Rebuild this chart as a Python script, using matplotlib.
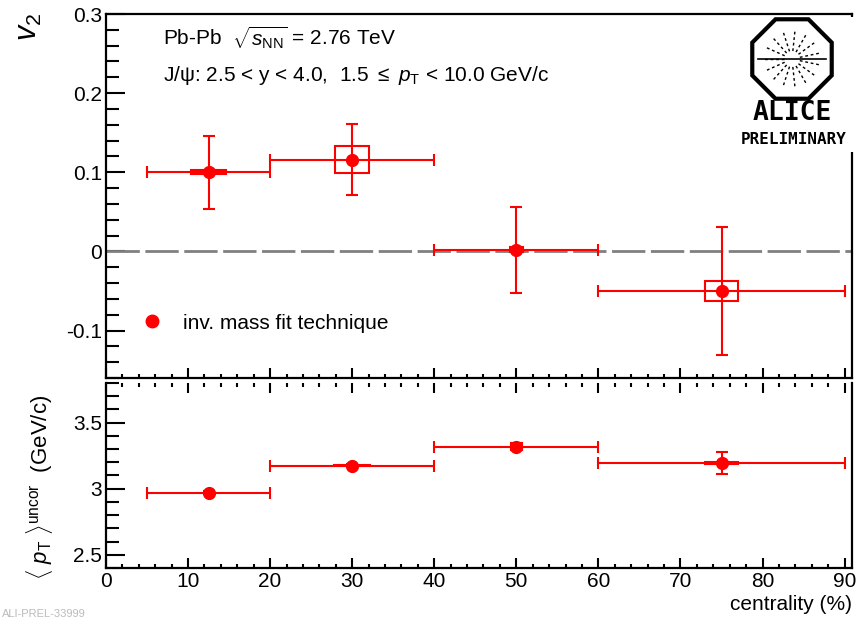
import numpy as np
import matplotlib
matplotlib.use("Agg")
import matplotlib.pyplot as plt
from matplotlib.patches import Rectangle, RegularPolygon
from matplotlib.lines import Line2D
from matplotlib.ticker import MultipleLocator, FuncFormatter

plt.rcParams["font.family"] = ["Liberation Sans", "DejaVu Sans"]
plt.rcParams["mathtext.fontset"] = "custom"
plt.rcParams["mathtext.rm"] = "Liberation Sans"
plt.rcParams["mathtext.it"] = "Liberation Sans:italic"
plt.rcParams["axes.unicode_minus"] = False

# centrality bins
cent = np.array([12.5, 30.0, 50.0, 75.0])
bin_lo = np.array([5.0, 20.0, 40.0, 60.0])
bin_hi = np.array([20.0, 40.0, 60.0, 90.0])

# v2 with stat errors and systematic boxes
v2 = np.array([0.100, 0.116, 0.002, -0.050])
v2_stat = np.array([0.046, 0.045, 0.054, 0.081])
v2_sys = np.array([0.0025, 0.017, 0.003, 0.013])
v2_sys_w = np.array([2.1, 2.1, 0.8, 2.0])

# <pT> uncorrected
pt = np.array([2.97, 3.175, 3.318, 3.195])
pt_stat = np.array([0.010, 0.012, 0.026, 0.083])
pt_sys = np.array([0.004, 0.006, 0.026, 0.008])
pt_sys_w = np.array([0.4, 2.2, 0.7, 2.0])

RED = "#ff0000"
FS = 15

fig = plt.figure(figsize=(8.58, 6.2), dpi=100)
ax1 = fig.add_axes([0.1235, 0.3903, 0.8695, 0.5871])
ax2 = fig.add_axes([0.1235, 0.0839, 0.8695, 0.2984])


def draw(ax, y, stat, sys, sys_w):
    xerr = [cent - bin_lo, bin_hi - cent]
    ax.errorbar(cent, y, xerr=xerr, yerr=stat, fmt="o", color=RED, ms=8.5,
                elinewidth=1.5, capsize=4, capthick=1.5, zorder=4)
    for xc, yc, dy, dx in zip(cent, y, sys, sys_w):
        ax.add_patch(Rectangle((xc - dx, yc - dy), 2 * dx, 2 * dy, fill=False,
                               ec=RED, lw=1.5, zorder=5))


draw(ax1, v2, v2_stat, v2_sys, v2_sys_w)
draw(ax2, pt, pt_stat, pt_sys, pt_sys_w)

ax1.axhline(0, color="#808080", lw=2, ls=(0, (12, 2)), zorder=2)

for ax in (ax1, ax2):
    ax.set_xlim(0, 90.9)
    ax.xaxis.set_major_locator(MultipleLocator(10))
    ax.xaxis.set_minor_locator(MultipleLocator(2))
    for s in ax.spines.values():
        s.set_linewidth(1.6)
    ax.tick_params(which="both", direction="in", width=1.5, labelsize=FS,
                   right=False, pad=3)
    ax.tick_params(axis="x", which="major", length=7)
    ax.tick_params(axis="x", which="minor", length=3)
    ax.tick_params(axis="y", which="major", length=14)
    ax.tick_params(axis="y", which="minor", length=9)

fmt = FuncFormatter(lambda v, p: f"{v:g}")

ax1.set_ylim(-0.16, 0.3)
ax1.yaxis.set_major_locator(MultipleLocator(0.1))
ax1.yaxis.set_minor_locator(MultipleLocator(0.02))
ax1.yaxis.set_major_formatter(fmt)
ax1.tick_params(axis="x", labelbottom=False)

ax2.set_ylim(2.4, 3.8)
ax2.yaxis.set_major_locator(MultipleLocator(0.5))
ax2.yaxis.set_minor_locator(MultipleLocator(0.1))
ax2.yaxis.set_major_formatter(fmt)
ax2.spines["top"].set_visible(False)
ax2.tick_params(axis="x", which="both", top=True)

# labels and annotations
fig.text(29 / 858, 1 - 27 / 620, r"$v_{2}$", rotation=90, fontsize=22,
         ha="center", va="center")
fig.text(40 / 858, 1 - 487 / 620,
         r"$\langle\ p_{\rm T}\ \rangle^{\rm uncor}$  (GeV/c)", rotation=90,
         fontsize=16, ha="center", va="center")
fig.text(852 / 858, 1 - 605 / 620, "centrality (%)", fontsize=FS,
         ha="right", va="center")

ax1.text(0.077, 0.935, r"Pb-Pb  $\sqrt{s_{\rm NN}}$ = 2.76 TeV",
         transform=ax1.transAxes, fontsize=FS, va="center")
ax1.text(0.077, 0.83, r"J/ψ: 2.5 < y < 4.0,  1.5 $\leq$ $p_{\rm T}$ < 10.0 GeV/c",
         transform=ax1.transAxes, fontsize=FS, va="center")

handle = Line2D([], [], marker="o", ls="none", color=RED, ms=9)
ax1.legend([handle], ["inv. mass fit technique"], loc="center left",
           bbox_to_anchor=(0.048, 0.151), frameon=False, fontsize=FS,
           handlelength=1.0, handletextpad=1.0, borderpad=0, borderaxespad=0)

# ALICE preliminary logo
lax = fig.add_axes([730 / 858, 1 - 152 / 620, 128 / 858, 135 / 620], zorder=10)
lax.set_xlim(730, 858)
lax.set_ylim(152, 17)
lax.axis("off")
lax.add_patch(Rectangle((730, 17), 128, 135, color="white", zorder=0))
lax.add_patch(RegularPolygon((792, 59), numVertices=8, radius=43,
                             orientation=np.pi / 8, fill=False, lw=3,
                             ec="black"))
lax.plot([758, 826], [59, 59], color="black", lw=1.2)
for a in np.deg2rad(np.arange(0, 360, 24) + 12):
    lax.plot([792 + 8 * np.cos(a), 792 + 30 * np.cos(a)],
             [59 + 8 * np.sin(a), 59 + 30 * np.sin(a)],
             color="black", lw=1, ls=(0, (2, 2)))
lax.text(792, 113, "ALICE", fontsize=19, family="DejaVu Sans Mono",
         weight="bold", ha="center", va="center")
lax.text(794, 140, "PRELIMINARY", fontsize=11.5, family="DejaVu Sans Mono",
         weight="bold", ha="center", va="center")

fig.text(0.002, 0.001, "ALI-PREL-33999", fontsize=8, color="#bbbbbb",
         ha="left", va="bottom")

fig.savefig("out.png", dpi=100)
